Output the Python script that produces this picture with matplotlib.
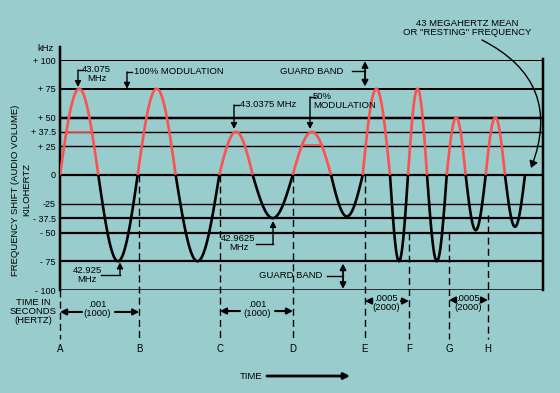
import numpy as np
import matplotlib.pyplot as plt
from matplotlib.patches import FancyArrowPatch

plt.rcParams['font.family'] = ['Liberation Sans', 'DejaVu Sans']

# datos (tiempo en ms, desviación en kHz)
cruces = [0.0, 0.479, 0.971, 1.446, 1.991, 2.409, 2.909, 3.388, 3.784,
          4.125, 4.35, 4.588, 4.834, 5.071, 5.321, 5.5625, 5.8125]
amplitudes = [75, -75, 75, -75, 37.5, -37.5, 37.5, -36,
              75, -75, 75, -75, 50, -48, 50, -45]

niveles = [100, 75, 50, 37.5, 25, 0, -25, -37.5, -50, -75, -100]
etiquetas = ['+ 100', '+ 75', '+ 50', '+ 37.5', '+ 25', '0', '-25',
             '- 37.5', '- 50', '- 75', '- 100']
grosores = [2.0, 2.0, 2.5, 1.4, 1.4, 2.2, 1.4, 2.2, 2.2, 2.2, 1.5]

letras = ['A', 'B', 'C', 'D', 'E', 'F', 'G', 'H']
t_letras = [0.0, 0.99, 2.0, 2.9125, 3.8125, 4.3625, 4.8625, 5.35]
inicio_guion = [-100, 0, 0, 0, 0, -50, -50, -35]

# colores
fondo = '#99CCCC'
rojo = '#FF5050'
negro = 'black'
px = 0.72  # puntos por pixel

fig = plt.figure(figsize=(5.6, 3.93), dpi=100)
fig.patch.set_facecolor(fondo)
ax = fig.add_axes([60/560, 1 - 290/393, 483/560, 230/393])
ax.set_facecolor(fondo)
ax.set_xlim(0, 6.0375)
ax.set_ylim(-100, 100)
for s in ax.spines.values():
    s.set_visible(False)
ax.set_xticks([])
ax.set_yticks(niveles, etiquetas)
ax.tick_params(axis='y', length=0, pad=3, labelsize=6.5)

# líneas horizontales
for y, g in zip(niveles, grosores):
    ax.axhline(y, color=negro, lw=g*px, zorder=1)

# eje izquierdo y borde derecho
ax.plot([0, 0], [-100, 111.3], color=negro, lw=2.5*px, clip_on=False)
ax.plot([6.0375, 6.0375], [-100, 101], color=negro, lw=2.5*px, clip_on=False)
ax.text(-0.175, 109.6, 'kHz', fontsize=6.8, ha='center', va='center')

# onda modulada
for i in range(len(amplitudes)):
    z0, z1, a = cruces[i], cruces[i+1], amplitudes[i]
    t = np.linspace(z0, z1, 60)
    v = a*np.sin(np.pi*(t - z0)/(z1 - z0))
    ax.plot(t, v, color=rojo if a > 0 else negro, lw=1.9, zorder=3,
            solid_capstyle='butt')
ax.plot([0.1, 0.375], [37.5, 37.5], color=rojo, lw=1.2, zorder=3)
ax.plot([3.06, 3.25], [26, 26], color=rojo, lw=1.2, zorder=3)

# líneas punteadas verticales y letras
for l, t0, y0 in zip(letras, t_letras, inicio_guion):
    ax.plot([t0, t0], [y0, -143], color=negro, lw=1.0, ls=(0, (5, 3)),
            clip_on=False, zorder=2)
    ax.text(t0, -151, l, fontsize=7, ha='center', va='center')


def flecha(p0, p1, estilo='-|>', lw=1.0):
    ax.annotate('', xy=p1, xytext=p0, annotation_clip=False,
                arrowprops=dict(arrowstyle=estilo + ',head_length=0.35,head_width=0.18',
                                color=negro, lw=lw, shrinkA=0, shrinkB=0))


def guia(puntos, lw=1.0):
    xs, ys = zip(*puntos)
    ax.plot(xs[:-1], ys[:-1], color=negro, lw=lw, clip_on=False)
    flecha(puntos[-2], puntos[-1], lw=lw)


kw = dict(fontsize=6.8, linespacing=1.0, color=negro)

# anotaciones superiores
ax.text(0.46, 87.5, '43.075\nMHz', ha='center', va='center', **kw)
guia([(0.2875, 91.3), (0.225, 91.3), (0.225, 76.5)])
ax.text(0.925, 89.6, '100% MODULATION', ha='left', va='center', **kw)
guia([(0.9, 89.6), (0.8375, 89.6), (0.8375, 75)])
ax.text(2.25, 60.9, '43.0375 MHz', ha='left', va='center', **kw)
guia([(2.2375, 60.9), (2.175, 60.9), (2.175, 40)])
ax.text(3.1625, 64, '50%\nMODULATION', ha='left', va='center', **kw)
guia([(3.1875, 67.8), (3.125, 67.8), (3.125, 40)])
ax.text(2.75, 90.4, 'GUARD BAND', ha='left', va='center', **kw)
ax.plot([3.65, 3.8125], [90.4, 90.4], color=negro, lw=1.0)
flecha((3.8125, 77), (3.8125, 99), estilo='<|-|>', lw=1.3)
ax.text(5.0875, 127.8, '43 MEGAHERTZ MEAN\nOR "RESTING" FREQUENCY',
        ha='center', va='center', **kw)
fig.patches.append(FancyArrowPatch(
    (5.275, 117.4), (5.8875, 6.1), transform=ax.transData,
    connectionstyle='arc3,rad=-0.45', arrowstyle='-|>,head_length=4,head_width=2.5',
    color=negro, lw=1.0, shrinkA=0, shrinkB=0))

# anotaciones inferiores
ax.text(0.3375, -86.8, '42.925\nMHz', ha='center', va='center', **kw)
guia([(0.5125, -87), (0.75, -87), (0.75, -76)])
ax.text(2.231, -59.5, '42.9625\nMHz', ha='center', va='center', **kw)
guia([(2.45, -60), (2.6625, -60), (2.6625, -40)])
ax.text(2.881, -87.8, 'GUARD BAND', ha='center', va='center', **kw)
ax.plot([3.3375, 3.5375], [-87.8, -87.8], color=negro, lw=1.0)
flecha((3.5375, -77), (3.5375, -99), estilo='<|-|>', lw=1.3)

# cotas de tiempo
ax.text(-0.3375, -119.1, 'TIME IN\nSECONDS\n(HERTZ)', ha='center', va='center', **kw)
for (c, y, txt, a0, a1, b0, b1, yf) in [
        (0.4625, -116.5, '.001\n(1000)', 0.275, 0.0, 0.6875, 0.99, -119.1),
        (2.4625, -116.5, '.001\n(1000)', 2.25, 2.0, 2.6875, 2.9125, -118.3),
        (4.075, -110.9, '.0005\n(2000)', 3.9, 3.8125, 4.2625, 4.3625, -109.6),
        (5.1, -110.9, '.0005\n(2000)', 4.9375, 4.8625, 5.2625, 5.35, -108.7)]:
    ax.text(c, y, txt, ha='center', va='center', **kw)
    flecha((a0, yf), (a1, yf), lw=1.5)
    flecha((b0, yf), (b1, yf), lw=1.5)

ax.text(2.3875, -174.8, 'TIME', ha='center', va='center', **kw)
flecha((2.5875, -174.8), (3.625, -174.8), lw=2.0)

ax.text(-0.4875, -13, 'FREQUENCY SHIFT (AUDIO VOLUME)\nKILOHERTZ', rotation=90,
        ha='center', va='center', multialignment='center', fontsize=6.8,
        linespacing=1.3)

plt.savefig('out.png', dpi=100, facecolor=fondo)
